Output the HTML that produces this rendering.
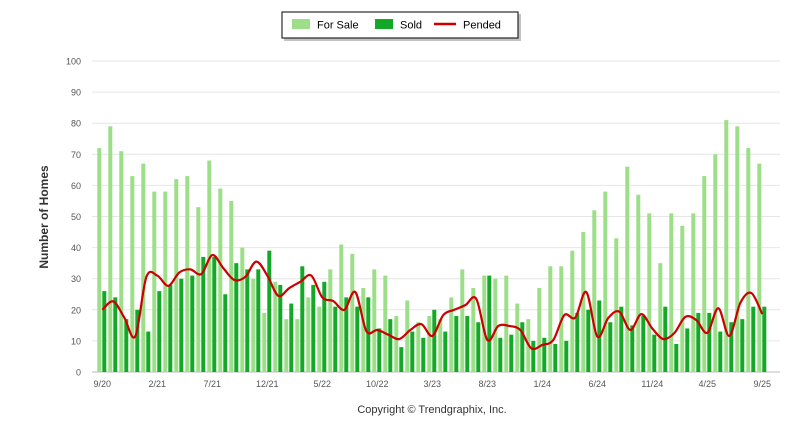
<!DOCTYPE html>
<html><head><meta charset="utf-8"><style>
body{margin:0;background:#fff;font-family:"Liberation Sans",sans-serif}
</style></head><body>
<svg width="800" height="434" id="chart" xmlns="http://www.w3.org/2000/svg" font-family="Liberation Sans, sans-serif">
<g>
<rect x="284" y="14" width="237" height="27" fill="#888" opacity="0.5"/>
<rect x="282" y="12" width="236" height="26" fill="#fff" stroke="#000" stroke-width="1"/>
<g><rect x="292" y="19" width="18" height="10" fill="#9ddf88"/><text x="317" y="28.5" font-size="11">For Sale</text></g>
<g><rect x="375" y="19" width="18" height="10" fill="#14a829"/><text x="400" y="28.5" font-size="11">Sold</text></g>
<g><line x1="434" y1="24" x2="456" y2="24" stroke="#cc0000" stroke-width="2.5"/><text x="463" y="28.5" font-size="11">Pended</text></g>
</g>
<text transform="translate(48,217) rotate(-90)" text-anchor="middle" font-size="12" font-weight="bold" fill="#333">Number of Homes</text>
<g id="grid"></g><g id="bars"></g><g id="line"></g><g id="xl"></g>
<text x="432" y="413" text-anchor="middle" font-size="11" fill="#333">Copyright © Trendgraphix, Inc.</text>
</svg>
<script>
const forSale=[72,79,71,63,67,58,58,62,63,53,68,59,55,40,30,19,29,17,17,24,21,33,41,38,27,33,31,18,23,16,18,17,24,33,27,31,30,31,22,17,27,34,34,39,45,52,58,43,66,57,51,35,51,47,51,63,70,81,79,72,67];
const sold=[26,24,17,20,13,26,28,30,31,37,37,25,35,33,33,39,28,22,34,28,29,21,24,21,24,14,17,8,13,11,20,13,18,18,16,31,11,12,16,10,11,9,10,19,20,23,16,21,15,18,12,21,9,14,19,19,13,16,17,21,21];
const pended=[20,22.7,17.5,11.5,30.5,31,27.7,32,33,31.5,37.6,33.4,29.6,30.6,35.5,31,24.5,27,29,31,24,22.8,20,25.7,13.2,13.5,12,10.6,13.5,15.4,11.6,18.3,20,21.5,23.5,10.3,14.8,14.8,13.5,7.6,8.7,10.3,18.3,17.5,25.7,11.4,17.4,19.4,13.5,18.6,14,10.6,12.5,17.7,16.7,12.6,20.5,11.6,22.2,25.4,18.6];
const yTicks=[0,10,20,30,40,50,60,70,80,90,100];
const xLabels=["9/20","2/21","7/21","12/21","5/22","10/22","3/23","8/23","1/24","6/24","11/24","4/25","9/25"];
const NS="http://www.w3.org/2000/svg";
const y=v=>372-v*3.11, cx=i=>102.3+11*i;
function mk(t,a,p){const e=document.createElementNS(NS,t);for(const k in a)e.setAttribute(k,a[k]);document.getElementById(p).appendChild(e);return e;}
yTicks.forEach(v=>{
 const l=mk('line',{x1:92,x2:780,y1:y(v),y2:y(v),stroke:v==0?'#bbb':'#e6e6e6'},'grid');
 
 
 const t=mk('text',{x:81,y:y(v)+3.5,'text-anchor':'end','font-size':9,fill:'#555'},'grid');t.textContent=v;
 
 
});
forSale.forEach((v,i)=>{
 const r=mk('rect',{x:cx(i)-5,y:y(v),width:4,height:v*3.11,fill:'#9ddf88'},'bars');
 
 
});
sold.forEach((v,i)=>{
 const r=mk('rect',{x:cx(i),y:y(v),width:4,height:v*3.11,fill:'#14a829'},'bars');
 
 
});
const pts=pended.map((v,i)=>[cx(i),y(v)]);
let d='M'+pts[0][0]+','+pts[0][1];
for(let i=0;i<pts.length-1;i++){
 const p0=pts[Math.max(0,i-1)],p1=pts[i],p2=pts[i+1],p3=pts[Math.min(pts.length-1,i+2)];
 const c1=[p1[0]+(p2[0]-p0[0])/6,p1[1]+(p2[1]-p0[1])/6],c2=[p2[0]-(p3[0]-p1[0])/6,p2[1]-(p3[1]-p1[1])/6];
 d+=` C${c1[0]},${c1[1]} ${c2[0]},${c2[1]} ${p2[0]},${p2[1]}`;
}
const pl=mk('path',{d:d,fill:'none',stroke:'#cc0000','stroke-width':2.2},'line');


xLabels.forEach((s,k)=>{
 const t=mk('text',{x:cx(k*5),y:387,'text-anchor':'middle','font-size':9,fill:'#555'},'xl');t.textContent=s;
 
 
});
</script>
</body></html>
